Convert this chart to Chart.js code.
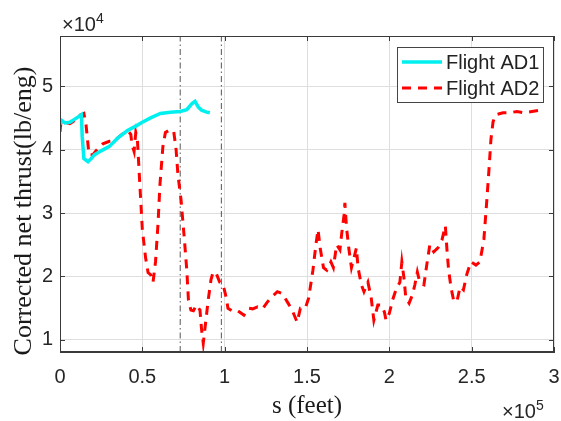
<!DOCTYPE html>
<html>
<head>
<meta charset="utf-8">
<script src="https://cdn.jsdelivr.net/npm/chart.js@4/dist/chart.umd.min.js"></script>
<style>
  html, body { margin: 0; padding: 0; background: #fff; }
  #wrap { width: 561px; height: 421px; }
</style>
</head>
<body>
<div id="wrap"><canvas id="thrust-chart" width="561" height="421"></canvas></div>
<script>
// distance flown (feet) and corrected net thrust (lb/eng)
const sAD1 = [0, 1000, 3000, 6000, 9000, 13000, 13500, 14500, 17000, 19000, 21000, 25000, 30000, 35000,
  41000, 46000, 50000, 55000, 61000, 67000, 73000, 77000, 80000, 82000, 84000, 86000, 89000, 91000];
const thrustAD1 = [44000, 44600, 44200, 44300, 44800, 45500, 42000, 38600, 38100, 38600, 39200, 39800, 40500, 41800,
  43000, 43700, 44300, 45000, 45700, 45900, 46000, 46300, 47200, 47600, 46700, 46200, 45900, 45800];

const sAD2 = [0, 600, 3000, 6000, 9000, 12000, 14500, 15800, 17000, 17600, 20000, 22500, 26000, 30000,
  33000, 37600, 41000, 43000, 43700, 45000, 46000, 47000, 48000, 49000, 50000, 52000, 53500, 55000,
  56500, 58000, 59500, 60700, 62500, 64000, 66000, 69000, 70500, 71600, 73500, 75300, 77000, 78000,
  79500, 81000, 83000, 85000, 86000, 87000, 88600, 90000, 91700, 93000, 94700, 97000, 99000, 101000,
  102000, 104500, 107500, 111700, 114700, 117000, 120000, 123000, 126000, 129000, 132000, 135000, 138500, 141000,
  144000, 146000, 149000, 151000, 153600, 155400, 156700, 158000, 160000, 162000, 164500, 166000, 168000, 170000,
  171000, 172500, 173000, 174000, 175500, 177000, 178500, 180000, 181000, 183000, 184600, 187000, 189000, 190600,
  193000, 195000, 197000, 198000, 200000, 202000, 204000, 206400, 207600, 209000, 210000, 212000, 214000, 215500,
  217000, 218600, 221000, 223000, 224600, 227000, 229500, 232000, 234000, 235000, 236000, 237500, 239000, 241000,
  243000, 245000, 247000, 249500, 252600, 255000, 257400, 259000, 260500, 261700, 263000, 264700, 269000, 273000,
  277500, 282000, 286600, 291400];
const thrustAD2 = [42800, 44400, 44300, 44100, 44600, 45400, 45700, 43900, 40800, 39200, 39200, 40000, 40900, 41300,
  41400, 42400, 43000, 42400, 40800, 39700, 42700, 41600, 36800, 32100, 27400, 22900, 20600, 20300,
  19100, 22300, 28200, 34500, 40500, 42700, 43000, 43000, 40000, 36100, 32100, 26600, 21000, 16300,
  14700, 14600, 15500, 14700, 11600, 9500, 13100, 16300, 19500, 20700, 20600, 19100, 18800, 16600,
  15000, 14600, 14700, 13900, 15000, 14900, 15200, 14900, 16000, 16900, 17600, 17300, 15800, 14700,
  12800, 15000, 15000, 16600, 21000, 25000, 27400, 24500, 21400, 21000, 22300, 21400, 25000, 24200,
  26600, 29700, 31600, 27700, 24200, 21400, 22900, 24500, 21400, 18700, 17600, 19100, 16600, 13100,
  15500, 15500, 14400, 13100, 14200, 16300, 17900, 19100, 22300, 19500, 16600, 15800, 17100, 18700,
  20700, 19000, 18700, 22300, 25000, 23900, 24500, 25800, 28000, 24200, 21000, 18200, 16300, 16000,
  18400, 17900, 20300, 22300, 21800, 22300, 25800, 31300, 36800, 41600, 44400, 45500, 45800, 45800,
  46000, 45800, 46000, 46200];

// phase boundaries (dash-dot verticals)
const phaseMarks = [73000, 98000];

const xTicks = [0, 0.5, 1, 1.5, 2, 2.5, 3];   // x 10^5
const yTicks = [1, 2, 3, 4, 5];               // x 10^4
const yMin = 8100, yMax = 57900;

const sansFont = 'Liberation Sans, Arial, Helvetica, sans-serif';
const serifFont = 'Liberation Serif, Times New Roman, serif';
const axisColor = '#3a3a3a';

function toPoints(xs, ys) {
    return xs.map((x, i) => ({ x: x, y: ys[i] }));
}

const datasets = [
    {
        label: 'Flight AD1',
        data: toPoints(sAD1, thrustAD1),
        borderColor: '#00f0f0',
        borderWidth: 3.5,
        pointRadius: 0,
        tension: 0
    },
    {
        label: 'Flight AD2',
        data: toPoints(sAD2, thrustAD2),
        borderColor: '#ff0000',
        borderWidth: 3,
        borderDash: [9, 7],
        pointRadius: 0,
        tension: 0
    }
];
phaseMarks.forEach(function(s) {
    datasets.push({
        label: '',
        data: [{ x: s, y: yMin }, { x: s, y: yMax }],
        borderColor: '#555555',
        borderWidth: 1,
        borderDash: [6, 3, 1.5, 3],
        pointRadius: 0
    });
});

// box, inward ticks, legend, exponent labels and axis titles (MATLAB look)
const matlabDecor = {
    id: 'matlabDecor',
    afterDatasetsDraw(chart) {
        const ctx = chart.ctx;
        const a = chart.chartArea;
        const xs = chart.scales.x, ys = chart.scales.y;
        ctx.save();
        ctx.strokeStyle = axisColor;
        ctx.lineWidth = 1;
        ctx.setLineDash([]);
        ctx.strokeRect(a.left + 0.5, a.top + 0.5, a.right - a.left - 1, a.bottom - a.top - 1);
        ctx.beginPath();
        xTicks.forEach(function(t) {
            const px = Math.round(xs.getPixelForValue(t * 1e5)) + 0.5;
            ctx.moveTo(px, a.bottom); ctx.lineTo(px, a.bottom - 5);
            ctx.moveTo(px, a.top); ctx.lineTo(px, a.top + 5);
        });
        yTicks.forEach(function(t) {
            const py = Math.round(ys.getPixelForValue(t * 1e4)) + 0.5;
            ctx.moveTo(a.left, py); ctx.lineTo(a.left + 5, py);
            ctx.moveTo(a.right, py); ctx.lineTo(a.right - 5, py);
        });
        ctx.stroke();

        // legend
        const lx = 397, ly = 47, lw = 146, lh = 55;
        ctx.fillStyle = '#ffffff';
        ctx.fillRect(lx, ly, lw, lh);
        ctx.strokeStyle = '#444';
        ctx.strokeRect(lx + 0.5, ly + 0.5, lw, lh);
        const entries = chart.data.datasets.filter(d => d.label);
        entries.forEach(function(d, i) {
            const cy = ly + 15 + i * 26;
            ctx.beginPath();
            ctx.strokeStyle = d.borderColor;
            ctx.lineWidth = d.borderWidth;
            ctx.setLineDash(d.borderDash || []);
            ctx.moveTo(lx + 5, cy);
            ctx.lineTo(lx + 45, cy);
            ctx.stroke();
            ctx.setLineDash([]);
            ctx.fillStyle = '#222';
            ctx.font = '20px ' + sansFont;
            ctx.textBaseline = 'middle';
            ctx.textAlign = 'left';
            ctx.fillText(d.label, lx + 49, cy + 1);
        });
        ctx.restore();
    },
    afterDraw(chart) {
        const ctx = chart.ctx;
        ctx.save();
        ctx.fillStyle = '#262626';
        ctx.textAlign = 'left';
        ctx.textBaseline = 'alphabetic';
        // exponent labels
        ctx.font = '20px ' + sansFont;
        ctx.fillText('\u00d710', 62, 31);
        let w = ctx.measureText('\u00d710').width;
        ctx.font = '14px ' + sansFont;
        ctx.fillText('4', 62 + w, 23);
        ctx.font = '20px ' + sansFont;
        ctx.fillText('\u00d710', 502, 418);
        w = ctx.measureText('\u00d710').width;
        ctx.font = '14px ' + sansFont;
        ctx.fillText('5', 502 + w, 410);

        // axis titles
        ctx.fillStyle = '#1a1a1a';
        ctx.textAlign = 'center';
        ctx.textBaseline = 'middle';
        ctx.font = '25px ' + serifFont;
        ctx.fillText('s (feet)', 307, 406);
        ctx.translate(24, 211);
        ctx.rotate(-Math.PI / 2);
        ctx.font = '26px ' + serifFont;
        ctx.fillText('Corrected net thrust(lb/eng)', 0, 0);
        ctx.restore();
    }
};

new Chart(document.getElementById('thrust-chart').getContext('2d'), {
    type: 'line',
    data: { datasets: datasets },
    options: {
        responsive: false,
        animation: false,
        layout: { padding: { top: 36, right: 7, left: 0, bottom: 0 } },
        plugins: {
            legend: { display: false },
            tooltip: { enabled: false }
        },
        scales: {
            x: {
                type: 'linear',
                min: 0,
                max: 300000,
                afterBuildTicks: function(scale) {
                    scale.ticks = xTicks.map(t => ({ value: t * 1e5 }));
                },
                afterFit: function(scale) {
                    scale.height = 69;
                    scale.paddingLeft = 0;
                    scale.paddingRight = 0;
                },
                grid: { color: '#dedede', drawTicks: false },
                border: { color: axisColor },
                ticks: {
                    padding: 13,
                    color: '#262626',
                    font: { family: sansFont, size: 20 },
                    maxRotation: 0,
                    callback: function(value) { return String(value / 1e5); }
                }
            },
            y: {
                type: 'linear',
                min: yMin,
                max: yMax,
                afterBuildTicks: function(scale) {
                    scale.ticks = yTicks.map(t => ({ value: t * 1e4 }));
                },
                afterFit: function(scale) {
                    scale.width = 60;
                    scale.paddingTop = 0;
                    scale.paddingBottom = 0;
                },
                grid: { color: '#dedede', drawTicks: false },
                border: { color: axisColor },
                ticks: {
                    padding: 7,
                    color: '#262626',
                    font: { family: sansFont, size: 20 },
                    callback: function(value) { return String(value / 1e4); }
                }
            }
        }
    },
    plugins: [matlabDecor]
});
</script>
</body>
</html>
